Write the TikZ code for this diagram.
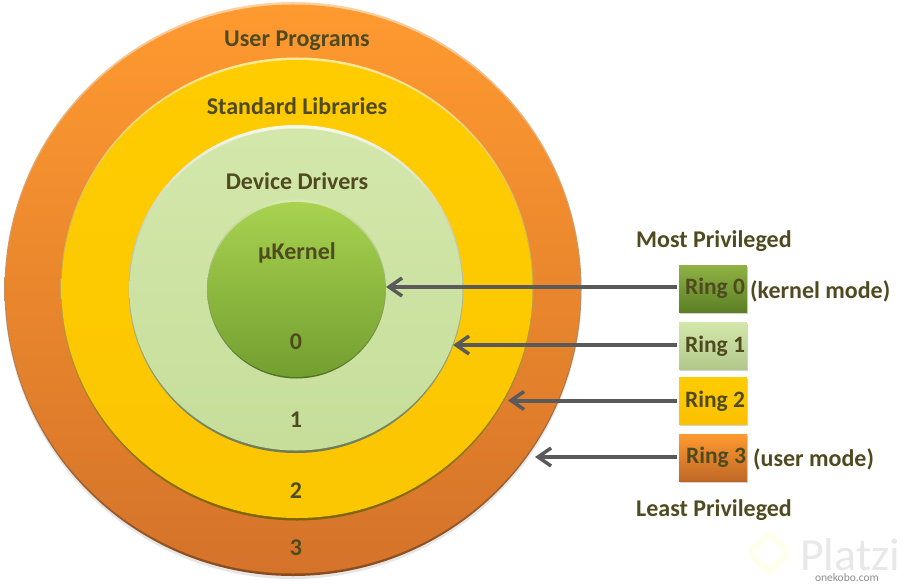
\documentclass[tikz,border=0pt]{standalone}
\usepackage{fontspec}
\setmainfont{Carlito}
\usetikzlibrary{positioning}
\usetikzlibrary{shadows}
\usetikzlibrary{arrows.meta}
\usetikzlibrary{shapes.geometric}
\definecolor{inktext}{HTML}{4F4A20}
\definecolor{arrowgrey}{HTML}{5A5A5A}
\definecolor{orangetop}{HTML}{FF9A30}
\definecolor{orangelow}{HTML}{D4732A}
\definecolor{yellowtop}{HTML}{FFCC00}
\definecolor{yellowlow}{HTML}{FBC602}
\definecolor{paletop}{HTML}{D3E7AB}
\definecolor{palelow}{HTML}{C6DE9A}
\definecolor{greentop}{HTML}{A8D24F}
\definecolor{greenlow}{HTML}{739F30}
\tikzset{
  ringdisc/.style n args={2}{ellipse,inner sep=0pt,minimum width=#1,minimum height=#2},
  ringlabel/.style={font=\fontsize{24}{26}\selectfont\bfseries,text=inktext,inner sep=0pt},
  ringbox/.style={rectangle,minimum width=68pt,minimum height=47pt,inner sep=0pt,
    font=\fontsize{23.5}{26}\selectfont\bfseries,text=inktext,
    drop shadow={shadow xshift=0.5pt,shadow yshift=-1.5pt,opacity=0.35}},
  pointer/.style={-{Straight Barb[length=13pt,width=18pt,line width=3.5pt]},line width=4pt,arrowgrey,shorten <=2pt},
}
\begin{document}
\begin{tikzpicture}[x=1pt,y=-1pt]
\useasboundingbox (0,0) rectangle (909,585);
% the rings
\node (outerrim) [ringdisc={577pt}{574pt},top color=orangetop!45!white,bottom color=orangelow!65!black,
  drop shadow={shadow xshift=0pt,shadow yshift=-3pt,opacity=0.2}] at (293,289) {};
\node (outer) [ringdisc={575pt}{569pt},top color=orangetop,bottom color=orangelow] at (293,289) {};
\node (libsrim) [ringdisc={473pt}{463pt},top color=yellowtop!40!white,bottom color=yellowlow!50!black] at (297,289) {};
\node (libs) [ringdisc={471pt}{458pt},top color=yellowtop,bottom color=yellowlow] at (297,289) {};
\node (driversrim) [ringdisc={335pt}{328pt},top color=paletop!25!white,bottom color=palelow!55!black] at (296,289) {};
\node (drivers) [ringdisc={333pt}{322pt},top color=paletop,bottom color=palelow] at (296,289.5) {};
\node (kernelrim) [ringdisc={179pt}{179pt},top color=greentop!45!white,bottom color=greenlow!70!black] at (296.5,289) {};
\node (kernel) [ringdisc={177pt}{175pt},top color=greentop,bottom color=greenlow] at (296.5,289.5) {};
% ring texts
\node (t3) [ringlabel] at (297,41) {User Programs};
\node (t2) [ringlabel] at (297,106) {Standard Libraries};
\node (t1) [ringlabel] at (297,181) {Device Drivers};
\node (t0) [ringlabel] at (297,252.5) {µKernel};
\node (n0) [ringlabel] at (296,341.5) {0};
\node (n1) [ringlabel] at (296,419.5) {1};
\node (n2) [ringlabel] at (296,490.5) {2};
\node (n3) [ringlabel] at (296,548) {3};
% legend
\node (most) [ringlabel,anchor=west] at (636,241) {Most Privileged};
\node (box0) [ringbox,top color=greentop!85!black,bottom color=greenlow!80!black] at (713,288.5) {\hspace*{4pt}\raisebox{-2pt}{Ring 0}};
\node (box1) [ringbox,top color=paletop,bottom color=palelow!90!black,below=10pt of box0] {\hspace*{4pt}\raisebox{-1pt}{Ring 1}};
\node (box2) [ringbox,top color=yellowtop,bottom color=yellowlow!92!orange,below=8pt of box1] {\hspace*{4pt}\raisebox{-1pt}{Ring 2}};
\node (box3) [ringbox,top color=orangetop,bottom color=orangelow!90!black,below=9pt of box2] {\hspace*{6pt}\raisebox{-2pt}{Ring 3}};
\node (kmode) [ringlabel,anchor=west] at (750,291) {(kernel mode)};
\node (umode) [ringlabel,anchor=west] at (753,459) {(user mode)};
\node (least) [ringlabel,anchor=west] at (636,510.5) {Least Privileged};
% arrow tips
\coordinate (tip0) at (386,287);
\coordinate (tip1) at (453,345);
\coordinate (tip2) at (508,400.5);
\coordinate (tip3) at (535,457);
\path[pointer] (box0.west |- tip0) edge (tip0);
\path[pointer] (box1.west |- tip1) edge (tip1);
\path[pointer] (box2.west |- tip2) edge (tip2);
\path[pointer] (box3.west |- tip3) edge (tip3);
% watermark
\node (mark) [rectangle,rotate=45,minimum size=28pt,draw=green!6!yellow!7!white,line width=7pt,rounded corners=5pt] at (769,553) {};
\node (platzi) [anchor=base west,inner sep=0pt,text depth=0pt,font=\fontsize{46}{48}\selectfont,text=black!9] at (800,570) {Platzi};
\node (onekobo) [anchor=base east,inner sep=0pt,text height=7pt,font=\fontsize{11.5}{13}\selectfont,text=black!45] at (879,581) {onekobo.com};
\end{tikzpicture}
\end{document}
